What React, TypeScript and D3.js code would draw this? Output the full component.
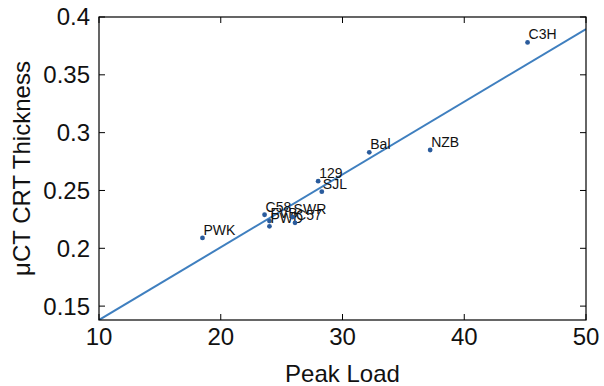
import React from "react";
import * as d3 from "d3";

const strains = ["C3H", "NZB", "Bal", "129", "SJL", "PWK", "C58", "FVB", "PWD", "SWR", "C57"];
const peakLoad = [45.2, 37.2, 32.2, 28.0, 28.3, 18.5, 23.6, 24.0, 24.0, 25.9, 26.1];
const thickness = [0.378, 0.285, 0.283, 0.258, 0.249, 0.209, 0.229, 0.2235, 0.219, 0.227, 0.222];
const xTicks = [10, 20, 30, 40, 50];
const yTicks = [0.15, 0.2, 0.25, 0.3, 0.35, 0.4];
const fitSlope = [0.00629];
const fitIntercept = [0.0751];

const W = 604, H = 386;
const M = { left: 99, right: 18, top: 17, bottom: 66 };

export default function App() {
  const x = d3.scaleLinear().domain([10, 50]).range([M.left, W - M.right]);
  const y = d3.scaleLinear().domain([0.138, 0.4]).range([H - M.bottom, M.top]);
  const fitX = [10, 50];
  const line = d3
    .line<number>()
    .x((d) => x(d))
    .y((d) => y(fitIntercept[0] + fitSlope[0] * d));
  const font = "'Liberation Sans', Arial, Helvetica, sans-serif";
  const x0 = M.left, x1 = W - M.right, y0 = H - M.bottom, y1 = M.top;
  const tl = 6;
  return (
    <svg width={W} height={H} style={{ position: "absolute", left: 0, top: 0, background: "#fff" }} fontFamily={font}>
      <rect x={0} y={0} width={W} height={H} fill="#fff" />
      <defs>
        <clipPath id="plot">
          <rect x={x0} y={y1} width={x1 - x0} height={y0 - y1} />
        </clipPath>
      </defs>
      <path d={line(fitX) || ""} fill="none" stroke="#3f7fbf" strokeWidth={2} clipPath="url(#plot)" />
      {strains.map((s, i) => (
        <g key={s}>
          <circle cx={x(peakLoad[i])} cy={y(thickness[i])} r={2.4} fill="#2a5b9c" />
          <text x={x(peakLoad[i]) + 1} y={y(thickness[i]) - 3} fontSize={14} fill="#111">
            {s}
          </text>
        </g>
      ))}
      <rect x={x0} y={y1} width={x1 - x0} height={y0 - y1} fill="none" stroke="#000" strokeWidth={1.2} />
      {xTicks.map((t) => (
        <g key={"x" + t}>
          <line x1={x(t)} x2={x(t)} y1={y0} y2={y0 - tl} stroke="#000" />
          <line x1={x(t)} x2={x(t)} y1={y1} y2={y1 + tl} stroke="#000" />
          <text x={x(t)} y={345} textAnchor="middle" fontSize={24} fill="#111">
            {t}
          </text>
        </g>
      ))}
      {yTicks.map((t) => (
        <g key={"y" + t}>
          <line x1={x0} x2={x0 + tl} y1={y(t)} y2={y(t)} stroke="#000" />
          <line x1={x1} x2={x1 - tl} y1={y(t)} y2={y(t)} stroke="#000" />
          <text x={90} y={y(t)} dy="0.35em" textAnchor="end" fontSize={24} fill="#111">
            {String(t)}
          </text>
        </g>
      ))}
      <text x={(x0 + x1) / 2} y={382} textAnchor="middle" fontSize={24} fill="#111">
        Peak Load
      </text>
      <text
        transform={`translate(30,${(y0 + y1) / 2}) rotate(-90)`}
        textAnchor="middle"
        fontSize={24}
        fill="#111"
      >
        μCT CRT Thickness
      </text>
    </svg>
  );
}
